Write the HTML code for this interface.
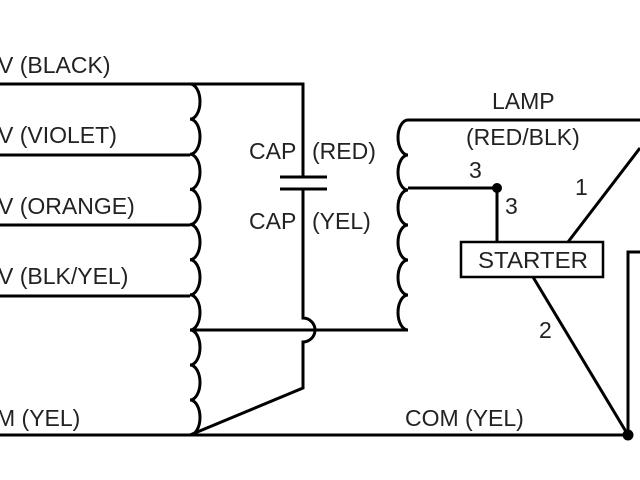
<!DOCTYPE html>
<html><head><style>body{margin:0;background:#fff}svg{display:block}text{font-family:"Liberation Sans",sans-serif;font-size:23px;fill:#222}</style></head><body>
<svg width="640" height="480" viewBox="0 0 640 480">
<g fill="none" stroke="#000" stroke-width="3">
<path d="M0 84H303V177 M280 177H327 M280 189H327 M303 189V318 A12 12 0 0 1 303 342 V388 L190 435"/>
<path d="M0 155H190 M0 225H190 M0 296H190 M190 330H408 M0 435H628 V252H640"/>
<path d="M190 84 a10 17.57 0 0 1 0 35.14 a10 17.57 0 0 1 0 35.14 a10 17.57 0 0 1 0 35.14 a10 17.57 0 0 1 0 35.14 a10 17.57 0 0 1 0 35.14 a10 17.57 0 0 1 0 35.14 a10 17.57 0 0 1 0 35.14 a10 17.5 0 0 1 0 35 a10 17.5 0 0 1 0 35 a10 17.5 0 0 1 0 35"/>
<path d="M640 120H408 a10 17.5 0 0 0 0 35 a10 17.5 0 0 0 0 35 a10 17.5 0 0 0 0 35 a10 17.5 0 0 0 0 35 a10 17.5 0 0 0 0 35 a10 17.5 0 0 0 0 35"/>
<path d="M408 188H497V242 M568 242L640 148 M533 277L628 435"/>
<rect x="461" y="242" width="142" height="35" stroke-width="2.5"/>
</g>
<circle cx="497" cy="188" r="5"/><circle cx="628" cy="435" r="5.5"/>
<text x="-2" y="73">V (BLACK)</text>
<text x="-2" y="143">V (VIOLET)</text>
<text x="-2" y="214">V (ORANGE)</text>
<text x="-2" y="284">V (BLK/YEL)</text>
<text x="-4" y="426">M (YEL)</text>
<text x="249" y="159">CAP</text><text x="312" y="159">(RED)</text>
<text x="249" y="229">CAP</text><text x="312" y="229">(YEL)</text>
<text x="492" y="109">LAMP</text><text x="466" y="145">(RED/BLK)</text>
<text x="469" y="178">3</text><text x="505" y="214">3</text>
<text x="575" y="195">1</text><text x="539" y="338">2</text>
<text x="478" y="268" textLength="110" lengthAdjust="spacingAndGlyphs">STARTER</text>
<text x="405" y="426">COM (YEL)</text>
</svg></body></html>
